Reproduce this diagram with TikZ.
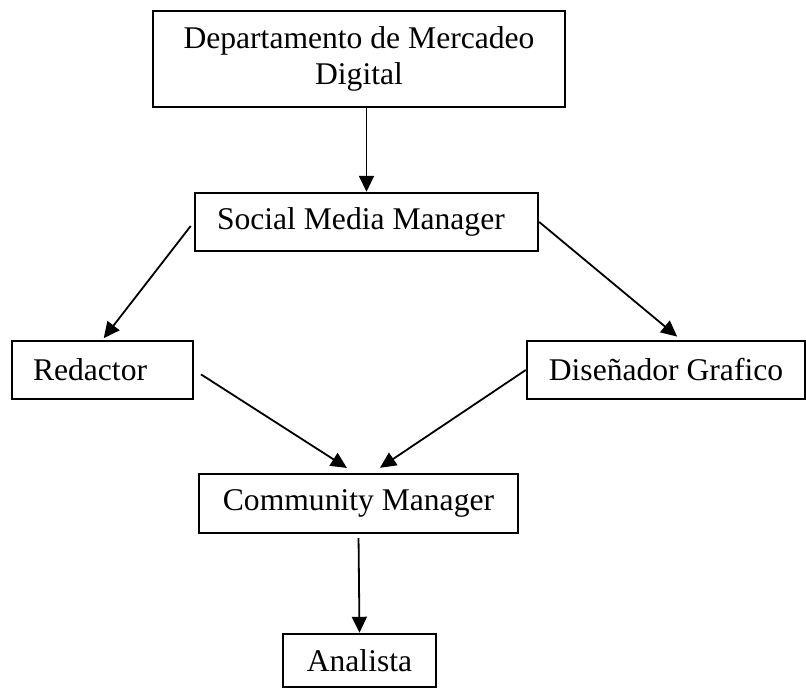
\documentclass[tikz,border=0pt]{standalone}
\usepackage{fontspec}
\setmainfont{Liberation Serif}
\usepackage{tikz}
\usetikzlibrary{arrows.meta}

\begin{document}
\begin{tikzpicture}[x=1pt, y=-1pt]
        % Define styles
        \tikzset{
            unit/.style={rectangle, draw, line width=2.4pt, inner sep=0pt, minimum height=58pt, font=\fontsize{31.6}{36}\selectfont},
            arrow/.style={-{Triangle[length=16pt, width=15pt]}, line width=1.8pt}
        }
        \useasboundingbox (0,0) rectangle (806,688);

        % Nodes
        \node[unit, minimum width=412pt, minimum height=96pt, align=center] (dept_node) at (359,59) {Departamento de Mercadeo\\Digital};
        \node[unit, minimum width=343pt, inner xsep=22pt, text width=299pt, align=flush left] (social_node) at (366.5,222) {Social Media Manager};
        \node[unit, minimum width=181pt, inner xsep=21pt, text width=139pt, align=flush left] (redactor_node) at (102.5,370) {Redactor};
        \node[unit, minimum width=278pt] (disenador_node) at (666,370) {Diseñador Grafico};
        \node[unit, minimum width=319pt, minimum height=59pt] (community_node) at (358.5,503.5) {Community Manager};
        \node[unit, minimum width=153pt, minimum height=53pt] (analista_node) at (359.5,660.5) {Analista};

        % Arrows
        \draw[arrow] (dept_node.south -| social_node.north) -- (social_node.north);
        \draw[arrow, shorten <=5pt, shorten >=2pt] (social_node.west) -- (redactor_node.north);
        \draw[arrow, shorten >=5pt] (social_node.east) -- ([xshift=15pt]disenador_node.north);
        \draw[arrow, shorten <=8pt, shorten >=9pt] (redactor_node.east) -- ([xshift=-4pt]community_node.north);
        \draw[arrow, shorten >=9pt] (disenador_node.west) -- ([xshift=14pt]community_node.north);
        \draw[arrow, shorten <=4pt] (community_node.south) -- (analista_node.north);
    \end{tikzpicture}
\end{document}
